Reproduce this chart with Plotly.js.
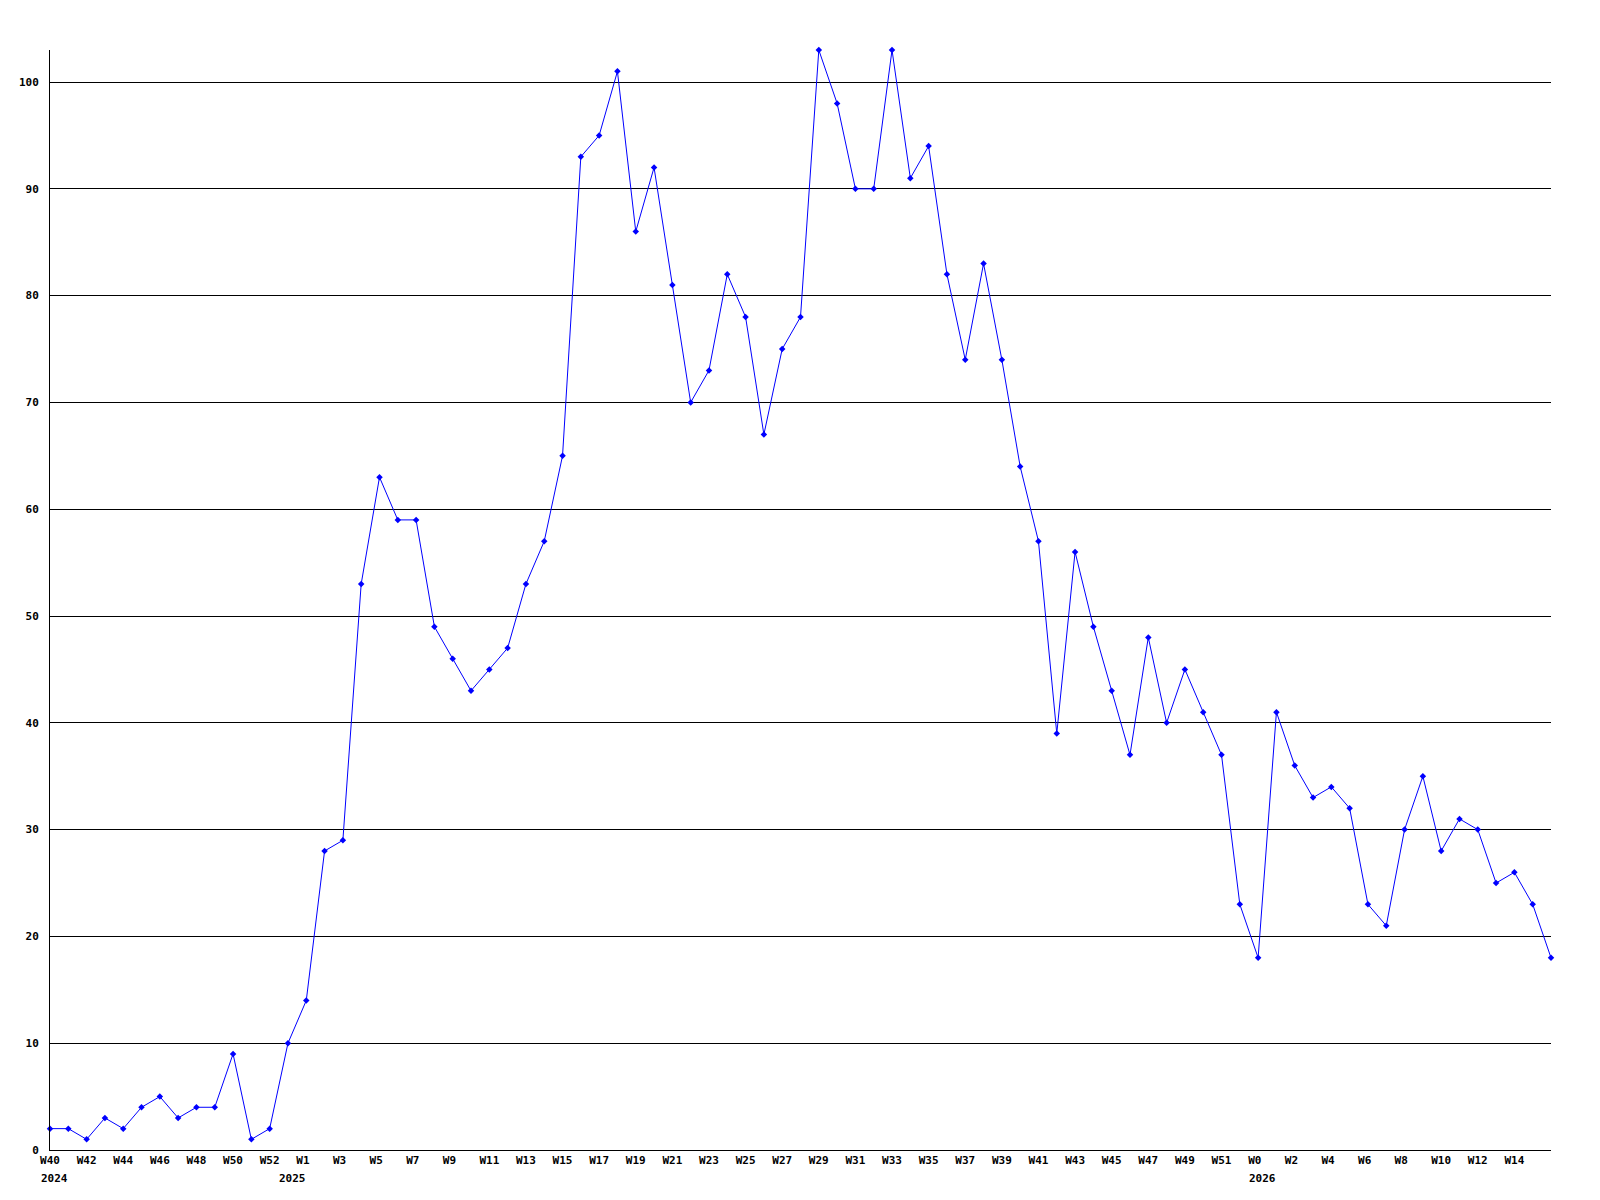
<!DOCTYPE html>
<html>
<head>
<meta charset="utf-8">
<script src="https://cdn.plot.ly/plotly-3.0.1.min.js"></script>
<style>
  html, body { margin: 0; padding: 0; background: #ffffff; }
  #chart { width: 1600px; height: 1200px; }
</style>
</head>
<body>
<div id="chart"></div>
<script>
// ---- data ----
const yearLabels = ['2024', '2025', '2026'];

const weekLabels = [
  'W40','W41','W42','W43','W44','W45','W46','W47','W48','W49','W50','W51','W52',
  'W0','W1','W2','W3','W4','W5','W6','W7','W8','W9','W10','W11','W12','W13','W14','W15',
  'W16','W17','W18','W19','W20','W21','W22','W23','W24','W25','W26','W27','W28','W29',
  'W30','W31','W32','W33','W34','W35','W36','W37','W38','W39','W40','W41','W42','W43',
  'W44','W45','W46','W47','W48','W49','W50','W51','W52',
  'W0','W1','W2','W3','W4','W5','W6','W7','W8','W9','W10','W11','W12','W13','W14','W15','W16'
];

const values = [
  2, 2, 1, 3, 2, 4, 5, 3, 4, 4, 9, 1, 2,
  10, 14, 28, 29, 53, 63, 59, 59, 49, 46, 43, 45, 47, 53, 57, 65,
  93, 95, 101, 86, 92, 81, 70, 73, 82, 78, 67, 75, 78, 103,
  98, 90, 90, 103, 91, 94, 82, 74, 83, 74, 64, 57, 39, 56,
  49, 43, 37, 48, 40, 45, 41, 37, 23,
  18, 41, 36, 33, 34, 32, 23, 21, 30, 35, 28, 31, 30, 25, 26, 23, 18
];

const yTicks = [0, 10, 20, 30, 40, 50, 60, 70, 80, 90, 100];

// ---- build categories ----
let yi = 0;
const yearStartIdx = [0];
const categories = weekLabels.map((w, i) => {
  if (i > 0 && w === 'W0') { yi++; yearStartIdx.push(i); }
  return yearLabels[yi] + ' ' + w;
});

// every second week is labelled; the final point at the right edge carries no label
const lastIdx = categories.length - 1;
const tickIdx = categories.map((_, i) => i).filter(i => i % 2 === 0 && i < lastIdx);
const tickvals = tickIdx.map(i => categories[i]);
const ticktext = tickIdx.map(i => weekLabels[i])
  .map(t => t.length < 3 ? t + '\u00a0' : t);

const FONT = 'DejaVu Sans Mono, Liberation Mono, monospace';

const trace = {
  type: 'scatter',
  mode: 'lines+markers',
  x: categories,
  y: values,
  line: { color: '#0000ff', width: 1 },
  marker: { color: '#0000ff', symbol: 'diamond', size: 5 },
  hoverinfo: 'x+y',
  cliponaxis: false
};

const annotations = yearStartIdx.map((idx, k) => ({
  x: categories[idx],
  xref: 'x',
  y: 0,
  yref: 'paper',
  yshift: -28,
  xshift: -11,
  xanchor: 'left',
  yanchor: 'middle',
  showarrow: false,
  text: yearLabels[k],
  font: { family: FONT, size: 11, color: '#000000', weight: 'bold' }
}));

const layout = {
  width: 1600,
  height: 1200,
  paper_bgcolor: '#ffffff',
  plot_bgcolor: '#ffffff',
  showlegend: false,
  margin: { l: 50, r: 49, t: 50, b: 50, pad: 0 },
  xaxis: {
    type: 'category',
    categoryorder: 'array',
    categoryarray: categories,
    range: [0, lastIdx],
    tickmode: 'array',
    tickvals: tickvals,
    ticktext: ticktext,
    tickangle: 0,
    showgrid: false,
    zeroline: false,
    showline: true,
    linecolor: '#000000',
    linewidth: 1,
    ticks: '',
    tickfont: { family: FONT, size: 11, color: '#000000', weight: 'bold' },
    fixedrange: true
  },
  yaxis: {
    range: [0, 103],
    tickmode: 'array',
    tickvals: yTicks,
    ticktext: yTicks.map(String),
    showgrid: true,
    gridcolor: '#000000',
    gridwidth: 1,
    zeroline: false,
    showline: true,
    linecolor: '#000000',
    linewidth: 1,
    ticks: '',
    ticklabelstandoff: 8,
    tickfont: { family: FONT, size: 11, color: '#000000', weight: 'bold' },
    fixedrange: true
  },
  annotations: annotations
};

Plotly.newPlot('chart', [trace], layout, { displayModeBar: false, staticPlot: true });
</script>
</body>
</html>
